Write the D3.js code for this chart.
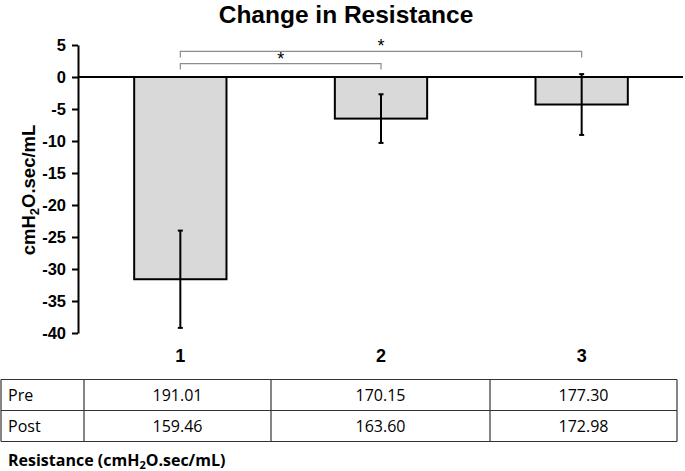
<!DOCTYPE html>
<html lang="en">
<head>
<meta charset="UTF-8">
<title>Change in Resistance</title>
<style>
  body { margin: 0; background: #fff; }
  svg { display: block; }
</style>
</head>
<body>
<div id="chart"></div>
<script src="https://cdnjs.cloudflare.com/ajax/libs/d3/7.8.2/d3.min.js"></script>
<script>
// chart data
var groups = ["1", "2", "3"];
var changeMean = [-31.6, -6.5, -4.3];
var changeErr = [7.6, 3.8, 4.75];
var yTicks = [5, 0, -5, -10, -15, -20, -25, -30, -35, -40];
var sigPairs = [["1", "2"], ["1", "3"]];
var sigLevels = [2.1, 4.0];
var rowNames = ["Pre", "Post"];
var preValues = ["191.01", "170.15", "177.30"];
var postValues = ["159.46", "163.60", "172.98"];

var width = 685, height = 471;
var armFont = "'Liberation Sans', Arial, sans-serif";
var tblFont = "'Open Sans', 'Noto Sans', sans-serif";

var svg = d3.select("#chart")
  .append("svg")
  .attr("width", width)
  .attr("height", height);

var x = d3.scaleBand()
  .domain(groups)
  .range([80, 682])
  .paddingInner(0.54)
  .paddingOuter(0.27);

var y = d3.scaleLinear()
  .domain([-40, 5])
  .range([333, 45]);

// title
svg.append("text")
  .attr("x", 346)
  .attr("y", 23)
  .attr("text-anchor", "middle")
  .attr("font-family", armFont)
  .attr("font-weight", "bold")
  .attr("font-size", 24.5)
  .text("Change in Resistance");

// y axis label
var yl = svg.append("text")
  .attr("transform", "translate(35,190) rotate(-90)")
  .attr("text-anchor", "middle")
  .attr("font-family", armFont)
  .attr("font-weight", "bold")
  .attr("font-size", 18.5);
yl.append("tspan").text("cmH");
yl.append("tspan").attr("font-size", 13).attr("dy", 4).text("2");
yl.append("tspan").attr("dy", -4).text("O.sec/mL");

// y axis
var yAxis = svg.append("g")
  .attr("transform", "translate(78,0)")
  .call(d3.axisLeft(y)
    .tickValues(yTicks)
    .tickFormat(function(d) { return String(d); })
    .tickSize(6).tickPadding(6).tickSizeOuter(0));
yAxis.select(".domain").attr("stroke", "#000").attr("stroke-width", 2);
yAxis.selectAll(".tick line").attr("stroke", "#000").attr("stroke-width", 2);
yAxis.selectAll(".tick text")
  .attr("font-family", armFont)
  .attr("font-weight", "bold")
  .attr("font-size", 16.5)
  .attr("fill", "#000");

// bars
var bars = groups.map(function(g, i) {
  return { g: g, mean: changeMean[i], err: changeErr[i] };
});

svg.selectAll(".bar")
  .data(bars)
  .enter()
  .append("rect")
  .attr("class", "bar")
  .attr("x", function(d) { return x(d.g); })
  .attr("width", x.bandwidth())
  .attr("y", function(d) { return y(Math.max(0, d.mean)); })
  .attr("height", function(d) { return Math.abs(y(d.mean) - y(0)); })
  .attr("fill", "#d9d9d9")
  .attr("stroke", "#000")
  .attr("stroke-width", 2);

// zero line
svg.append("line")
  .attr("x1", 78)
  .attr("x2", 683)
  .attr("y1", y(0))
  .attr("y2", y(0))
  .attr("stroke", "#000")
  .attr("stroke-width", 2);

// error bars
var eb = svg.selectAll(".err")
  .data(bars)
  .enter()
  .append("g")
  .attr("class", "err")
  .attr("stroke", "#000")
  .attr("stroke-width", 2);
eb.append("line")
  .attr("x1", function(d) { return x(d.g) + x.bandwidth() / 2; })
  .attr("x2", function(d) { return x(d.g) + x.bandwidth() / 2; })
  .attr("y1", function(d) { return y(d.mean + d.err); })
  .attr("y2", function(d) { return y(d.mean - d.err); });
[1, -1].forEach(function(s) {
  eb.append("line")
    .attr("x1", function(d) { return x(d.g) + x.bandwidth() / 2 - 2.5; })
    .attr("x2", function(d) { return x(d.g) + x.bandwidth() / 2 + 2.5; })
    .attr("y1", function(d) { return y(d.mean + s * d.err); })
    .attr("y2", function(d) { return y(d.mean + s * d.err); });
});

// significance brackets
sigPairs.forEach(function(p, i) {
  var x1 = x(p[0]) + x.bandwidth() / 2;
  var x2 = x(p[1]) + x.bandwidth() / 2;
  var yt = y(sigLevels[i]);
  svg.append("path")
    .attr("d", "M" + x1 + "," + (yt + 6) + "V" + yt + "H" + x2 + "V" + (yt + 6))
    .attr("fill", "none")
    .attr("stroke", "#8c8c8c")
    .attr("stroke-width", 1.2);
  svg.append("text")
    .attr("x", (x1 + x2) / 2)
    .attr("y", yt + 1)
    .attr("text-anchor", "middle")
    .attr("font-family", armFont)
    .attr("font-size", 18)
    .text("*");
});

// category labels
svg.selectAll(".xlab")
  .data(groups)
  .enter()
  .append("text")
  .attr("class", "xlab")
  .attr("x", function(d) { return x(d) + x.bandwidth() / 2; })
  .attr("y", 362)
  .attr("text-anchor", "middle")
  .attr("font-family", armFont)
  .attr("font-weight", "bold")
  .attr("font-size", 18)
  .text(function(d) { return d; });

// data table
var colEdges = [1, 84, 271, 490, 677];
var rowEdges = [379.5, 410.5, 441.5];
var tbl = svg.append("g").attr("stroke", "#333").attr("stroke-width", 1.2);
rowEdges.forEach(function(ry) {
  tbl.append("line").attr("x1", colEdges[0]).attr("x2", colEdges[4]).attr("y1", ry).attr("y2", ry);
});
colEdges.forEach(function(cx) {
  tbl.append("line").attr("x1", cx).attr("x2", cx).attr("y1", rowEdges[0]).attr("y2", rowEdges[2]);
});

[preValues, postValues].forEach(function(vals, r) {
  var by = rowEdges[r] + 21;
  svg.append("text")
    .attr("x", 8)
    .attr("y", by)
    .attr("font-family", tblFont)
    .attr("font-size", 16)
    .text(rowNames[r]);
  vals.forEach(function(v, c) {
    svg.append("text")
      .attr("x", (colEdges[c + 1] + colEdges[c + 2]) / 2)
      .attr("y", by)
      .attr("text-anchor", "middle")
      .attr("font-family", tblFont)
      .attr("font-size", 16)
      .text(v);
  });
});

// table caption
var cap = svg.append("text")
  .attr("x", 8)
  .attr("y", 466)
  .attr("font-family", tblFont)
  .attr("font-weight", "bold")
  .attr("font-size", 16);
cap.append("tspan").text("Resistance (cmH");
cap.append("tspan").attr("font-size", 11).attr("dy", 3).text("2");
cap.append("tspan").attr("dy", -3).text("O.sec/mL)");
</script>
</body>
</html>
